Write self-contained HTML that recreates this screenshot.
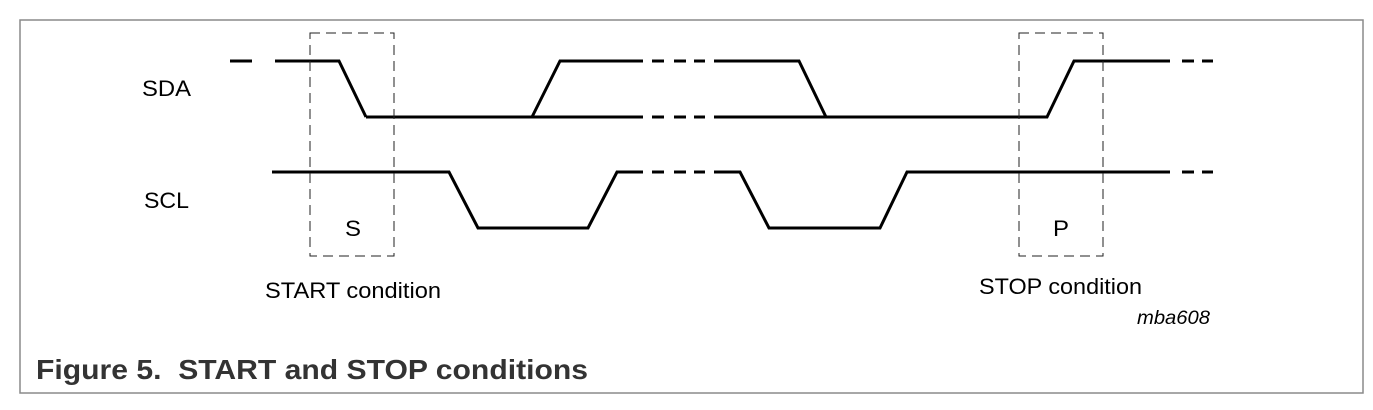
<!DOCTYPE html>
<html><head><meta charset="utf-8"><style>
html,body{margin:0;padding:0;background:#fff;}
svg{display:block;font-family:"Liberation Sans",sans-serif;}
</style></head><body>
<svg width="1373" height="410" viewBox="0 0 1373 410">
<rect x="20" y="20" width="1343" height="373" fill="#fff" stroke="#8a8a8a" stroke-width="1.5"/>
<g id="waves" stroke="#000" stroke-width="3" fill="none" stroke-linejoin="miter"></g>
<g stroke="#222" stroke-width="1" fill="none" stroke-dasharray="10,6">
<rect x="310" y="33" width="84" height="223"/>
<rect x="1019" y="33" width="84" height="223"/>
</g>
<text x="142" y="96" font-size="22" textLength="49" lengthAdjust="spacingAndGlyphs">SDA</text>
<text x="144" y="208" font-size="22" textLength="45" lengthAdjust="spacingAndGlyphs">SCL</text>
<text x="345" y="236" font-size="22" textLength="16" lengthAdjust="spacingAndGlyphs">S</text>
<text x="1053" y="236" font-size="22" textLength="16" lengthAdjust="spacingAndGlyphs">P</text>
<text x="265" y="298" font-size="22" textLength="176" lengthAdjust="spacingAndGlyphs">START condition</text>
<text x="979" y="294" font-size="22" textLength="163" lengthAdjust="spacingAndGlyphs">STOP condition</text>
<text x="1137" y="324" font-size="19" font-style="italic" textLength="73" lengthAdjust="spacingAndGlyphs">mba608</text>
<text x="36" y="379" font-size="28" font-weight="bold" fill="#333" xml:space="preserve" textLength="552" lengthAdjust="spacingAndGlyphs">Figure 5.  START and STOP conditions</text>
</svg>
<script>
const sdaHigh = [[275,61],[339,61],[366,117]];
const sdaRise = [[532,117],[560,61],[643,61]];
const sdaLow1 = [[366,117],[643,117]];
const sdaHigh2 = [[714,61],[799,61],[826,117],[1047,117],[1074,61],[1170,61]];
const sdaLow2 = [[714,117],[826,117]];
const scl = [[272,172],[449,172],[478,228],[588,228],[617,172],[643,172]];
const scl2 = [[714,172],[740,172],[769,228],[880,228],[907,172],[1170,172]];
const dashes = [[230,252,61],[652,664,61],[674,686,61],[694,705,61],[652,664,117],[674,686,117],[694,705,117],[652,664,172],[674,686,172],[694,705,172],[1182,1194,61],[1202,1213,61],[1182,1194,172],[1202,1213,172]];
const g = document.getElementById('waves');
const NS = 'http://www.w3.org/2000/svg';
[sdaHigh, sdaRise, sdaLow1, sdaHigh2, sdaLow2, scl, scl2].forEach(function(pts){
  const p = document.createElementNS(NS,'polyline');
  p.setAttribute('points', pts.map(function(q){return q.join(',');}).join(' '));
  
  
  g.appendChild(p);
});
dashes.forEach(function(d){
  const l = document.createElementNS(NS,'line');
  l.setAttribute('x1', d[0]); l.setAttribute('x2', d[1]);
  l.setAttribute('y1', d[2]); l.setAttribute('y2', d[2]);
  
  
  g.appendChild(l);
});
</script>
</body></html>
